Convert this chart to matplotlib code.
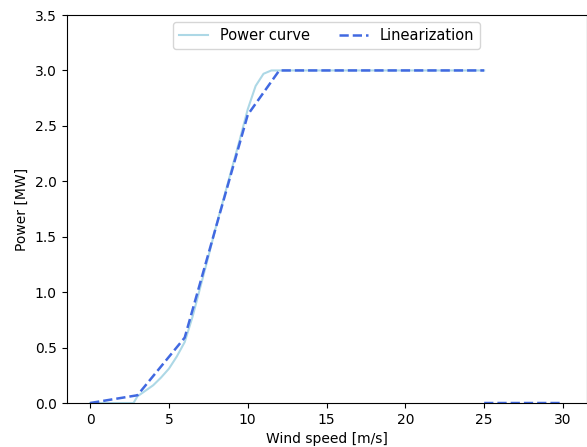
import numpy as np
import matplotlib
matplotlib.use("Agg")
import matplotlib.pyplot as plt

# Power curve
pc_speed = [0, 2.75, 3, 3.5, 4, 4.5, 5, 5.5, 6, 6.5, 7, 7.5, 8, 8.5, 9, 9.5, 10, 10.5, 11, 11.5, 12, 25]
pc_power = [0, 0, 0.06, 0.11, 0.16, 0.23, 0.31, 0.42, 0.55, 0.78, 1.05, 1.32, 1.6, 1.86, 2.12, 2.38, 2.65, 2.86, 2.97, 3.0, 3.0, 3.0]

# Linearization (piecewise)
lin_speed = [0, 3, 6, 10, 12, 25, np.nan, 25, 30]
lin_power = [0, 0.07, 0.59, 2.6, 3.0, 3.0, np.nan, 0, 0]

fig = plt.figure(figsize=(5.87, 4.47), dpi=100)
ax = fig.add_axes([0.1133, 0.0984, 0.886, 0.868])
ax.plot(pc_speed, pc_power, color="lightblue", linewidth=1.5, label="Power curve")
ax.plot(lin_speed, lin_power, color="royalblue", linestyle="--", linewidth=1.8, label="Linearization")
ax.set_xlim(-1.5, 31.5)
ax.set_ylim(0, 3.5)
ax.set_xticks([0, 5, 10, 15, 20, 25, 30])
ax.set_yticks([0.0, 0.5, 1.0, 1.5, 2.0, 2.5, 3.0, 3.5])
ax.set_xlabel("Wind speed [m/s]")
ax.set_ylabel("Power [MW]")
ax.legend(loc="upper center", ncol=2, fontsize=10.5)
fig.savefig("out.png", dpi=100)
